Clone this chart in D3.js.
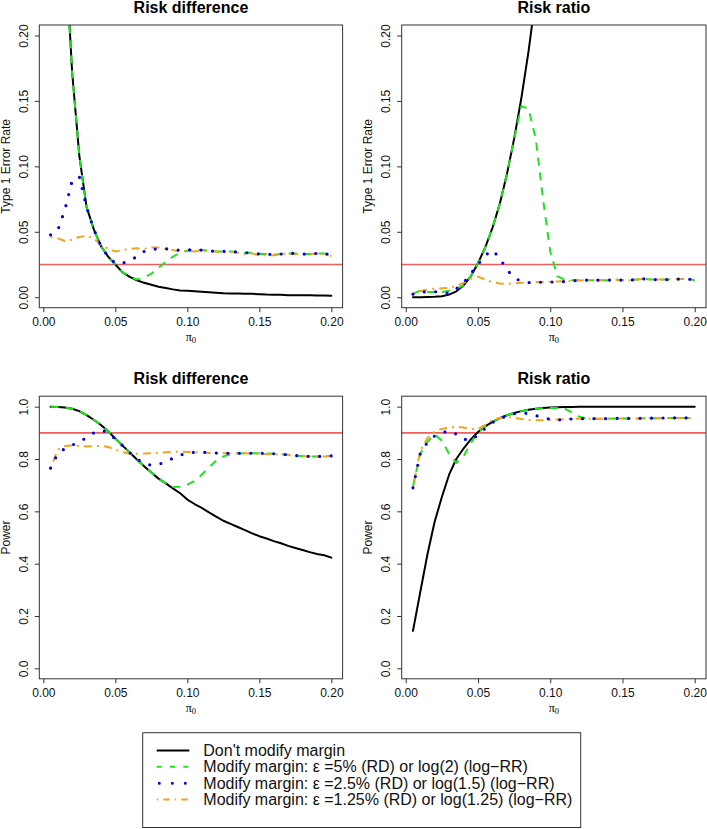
<!DOCTYPE html>
<html>
<head>
<meta charset="utf-8">
<script src="https://cdn.jsdelivr.net/npm/d3@7"></script>
<style>
  html, body { margin: 0; padding: 0; background: #fff; }
  svg { display: block; font-family: "Liberation Sans", Arial, Helvetica, sans-serif; }
</style>
</head>
<body>
<svg id="chart" width="707" height="829"></svg>
<script>
// ---------------- data ----------------
const pi0 = [0.005,0.010,0.015,0.020,0.025,0.030,0.035,0.040,0.045,0.050,
             0.055,0.060,0.065,0.070,0.075,0.080,0.085,0.090,0.095,0.100,
             0.105,0.110,0.115,0.120,0.125,0.130,0.135,0.140,0.145,0.150,
             0.155,0.160,0.165,0.170,0.175,0.180,0.185,0.190,0.195,0.200];

const xTicks = [0, 0.05, 0.10, 0.15, 0.20];
const xTickLabels = ["0.00","0.05","0.10","0.15","0.20"];
const type1Ticks = [0, 0.05, 0.10, 0.15, 0.20];
const type1TickLabels = ["0.00","0.05","0.10","0.15","0.20"];
const powerTicks = [0, 0.2, 0.4, 0.6, 0.8, 1.0];
const powerTickLabels = ["0.0","0.2","0.4","0.6","0.8","1.0"];

const panelTitles = ["Risk difference","Risk ratio","Risk difference","Risk ratio"];
const yLabels = ["Type 1 Error Rate","Type 1 Error Rate","Power","Power"];
const refLevels = [0.025, 0.025, 0.9, 0.9];

const legendLabels = [
  "Don't modify margin",
  "Modify margin: \u03b5 =5% (RD) or log(2) (log\u2212RR)",
  "Modify margin: \u03b5 =2.5% (RD) or log(1.5) (log\u2212RR)",
  "Modify margin: \u03b5 =1.25% (RD) or log(1.25) (log\u2212RR)"
];

// Risk difference, type 1 error
const rdType1NoMod = [0.62,0.45,0.27,0.172,0.108,0.069,0.052,0.039,0.031,0.025,
                      0.019,0.0155,0.013,0.011,0.0095,0.008,0.007,0.006,0.0052,0.005,
                      0.0046,0.0042,0.0038,0.0035,0.0031,0.0029,0.0028,0.0027,0.0026,0.0023,
                      0.002,0.0019,0.0018,0.0016,0.0016,0.0015,0.0015,0.0014,0.0013,0.0012];
const rdType1Eps5  = [0.62,0.45,0.27,0.172,0.108,0.069,0.052,0.039,0.031,0.025,
                      0.019,0.0155,0.0135,0.015,0.018,0.0225,0.027,0.031,0.034,0.0355,
                      0.036,0.036,0.0355,0.035,0.035,0.035,0.0345,0.034,0.034,0.033,
                      0.033,0.0325,0.033,0.0335,0.0335,0.033,0.033,0.0335,0.0335,0.032];
const rdType1Eps25 = [0.0477,0.051,0.067,0.089,0.092,0.069,0.052,0.039,0.031,0.026,
                      0.026,0.028,0.031,0.035,0.0365,0.037,0.037,0.0365,0.0358,0.036,
                      0.0365,0.036,0.0355,0.035,0.035,0.035,0.0345,0.034,0.034,0.033,
                      0.033,0.0325,0.033,0.0335,0.0335,0.033,0.033,0.0335,0.0335,0.032];
const rdType1Eps125= [0.046,0.045,0.043,0.044,0.046,0.047,0.045,0.04,0.037,0.035,
                      0.036,0.037,0.0375,0.037,0.038,0.038,0.037,0.036,0.035,0.0355,
                      0.035,0.0355,0.035,0.035,0.0345,0.0345,0.034,0.033,0.0335,0.032,
                      0.032,0.032,0.033,0.0335,0.033,0.033,0.033,0.0335,0.033,0.0315];

// Risk ratio, type 1 error
const rrType1NoMod = [0.0,0.0,0.0001,0.0003,0.0008,0.002,0.0045,0.009,0.016,0.026,
                      0.038,0.053,0.071,0.094,0.121,0.152,0.188,0.23,0.28,0.34,
                      0.40,0.46,0.52,0.58,0.64,0.69,0.74,0.78,0.82,0.85,
                      0.88,0.9,0.92,0.94,0.95,0.96,0.97,0.98,0.985,0.99];
const rrType1Eps5  = [0.0025,0.005,0.004,0.004,0.004,0.005,0.0065,0.009,0.016,0.026,
                      0.038,0.053,0.071,0.094,0.121,0.146,0.144,0.121,0.075,0.035,
                      0.016,0.0135,0.013,0.013,0.013,0.013,0.013,0.013,0.0135,0.013,
                      0.013,0.0135,0.014,0.0135,0.0135,0.0135,0.0135,0.014,0.014,0.013];
const rrType1Eps25 = [0.0023,0.0035,0.0045,0.0043,0.0035,0.003,0.0065,0.011,0.018,0.025,
                      0.032,0.036,0.03,0.021,0.015,0.012,0.0112,0.0113,0.0115,0.0116,
                      0.0118,0.012,0.0125,0.0128,0.013,0.013,0.013,0.013,0.0135,0.013,
                      0.013,0.0135,0.014,0.0135,0.0135,0.0135,0.0135,0.014,0.014,0.013];
const rrType1Eps125= [0.0025,0.0045,0.0058,0.0065,0.0068,0.0072,0.0085,0.011,0.014,0.0158,
                      0.0135,0.0115,0.0105,0.0103,0.0106,0.011,0.0114,0.0116,0.0117,0.0118,
                      0.012,0.0122,0.0125,0.0128,0.013,0.013,0.013,0.013,0.0135,0.013,
                      0.013,0.0135,0.014,0.0135,0.0135,0.0135,0.0135,0.014,0.014,0.013];

// Risk difference, power
const rdPowerNoMod = [1.0,0.999,0.997,0.992,0.983,0.968,0.95,0.93,0.906,0.878,
                      0.851,0.825,0.798,0.772,0.748,0.725,0.707,0.688,0.669,0.645,
                      0.628,0.613,0.596,0.58,0.564,0.552,0.54,0.528,0.516,0.505,
                      0.496,0.486,0.478,0.468,0.46,0.452,0.444,0.437,0.432,0.423];
const rdPowerEps5  = [1.0,0.999,0.997,0.992,0.983,0.968,0.95,0.93,0.906,0.878,
                      0.851,0.825,0.798,0.772,0.748,0.725,0.707,0.693,0.694,0.702,
                      0.716,0.74,0.768,0.793,0.81,0.818,0.821,0.822,0.822,0.822,
                      0.821,0.82,0.818,0.816,0.813,0.811,0.81,0.81,0.81,0.812];
const rdPowerEps25 = [0.765,0.82,0.84,0.853,0.865,0.882,0.9,0.91,0.902,0.876,
                      0.851,0.824,0.8,0.783,0.776,0.779,0.79,0.803,0.815,0.822,
                      0.826,0.826,0.825,0.823,0.822,0.822,0.822,0.822,0.822,0.822,
                      0.821,0.82,0.818,0.816,0.813,0.811,0.81,0.81,0.81,0.812];
const rdPowerEps125= [0.765,0.835,0.85,0.852,0.85,0.848,0.849,0.85,0.846,0.836,
                      0.826,0.82,0.82,0.821,0.822,0.824,0.826,0.827,0.828,0.827,
                      0.826,0.825,0.823,0.822,0.822,0.822,0.822,0.822,0.821,0.82,
                      0.819,0.818,0.817,0.815,0.813,0.811,0.81,0.81,0.81,0.812];

// Risk ratio, power
const rrPowerNoMod = [0.143,0.29,0.435,0.56,0.655,0.74,0.8,0.84,0.875,0.903,
                      0.925,0.942,0.956,0.967,0.976,0.983,0.988,0.992,0.995,0.997,
                      0.998,0.999,0.999,1,1,1,1,1,1,1,
                      1,1,1,1,1,1,1,1,1,1];
const rrPowerEps5  = [0.694,0.82,0.866,0.895,0.87,0.82,0.785,0.81,0.86,0.903,
                      0.925,0.942,0.956,0.967,0.976,0.983,0.988,0.992,0.994,0.995,
                      0.995,0.993,0.978,0.962,0.955,0.954,0.954,0.954,0.955,0.955,
                      0.955,0.955,0.956,0.956,0.956,0.957,0.957,0.957,0.957,0.957];
const rrPowerEps25 = [0.69,0.82,0.864,0.888,0.9,0.908,0.895,0.876,0.871,0.892,
                      0.917,0.94,0.952,0.966,0.973,0.977,0.973,0.966,0.958,0.952,
                      0.949,0.951,0.953,0.954,0.954,0.954,0.954,0.954,0.955,0.955,
                      0.955,0.955,0.956,0.956,0.956,0.957,0.957,0.957,0.957,0.957];
const rrPowerEps125= [0.69,0.83,0.88,0.905,0.915,0.92,0.923,0.92,0.915,0.915,
                      0.93,0.95,0.957,0.96,0.958,0.953,0.949,0.948,0.948,0.949,
                      0.951,0.952,0.953,0.954,0.954,0.954,0.954,0.954,0.955,0.955,
                      0.955,0.955,0.956,0.956,0.956,0.957,0.957,0.957,0.957,0.957];

// ---------------- styles ----------------
const seriesStyles = [
  { color: "#000000", width: 2,   dash: null,          cap: "round" },
  { color: "#1ee41e", width: 2,   dash: "8 7",         cap: "butt"  },
  { color: "#0000ee", width: 3.2, dash: "0 11.5",      cap: "round" },
  { color: "#f5a31c", width: 2,   dash: "2 5 8 5",     cap: "butt"  }
];
const legendDash = [null, "5 8.3", "0 13", "1.5 5 6.5 5"];

const panels = [
  { left: 39.3,  right: 342.6, top: 25,    bottom: 307.7, yDomain: [-0.008, 0.208], ticks: type1Ticks, tickLabels: type1TickLabels,
    series: [rdType1NoMod, rdType1Eps5, rdType1Eps125, rdType1Eps25] },
  { left: 401.7, right: 706,   top: 25,    bottom: 307.7, yDomain: [-0.008, 0.208], ticks: type1Ticks, tickLabels: type1TickLabels,
    series: [rrType1NoMod, rrType1Eps5, rrType1Eps125, rrType1Eps25] },
  { left: 39.3,  right: 342.6, top: 396.2, bottom: 678.8, yDomain: [-0.04, 1.04], ticks: powerTicks, tickLabels: powerTickLabels,
    series: [rdPowerNoMod, rdPowerEps5, rdPowerEps125, rdPowerEps25] },
  { left: 401.7, right: 706,   top: 396.2, bottom: 678.8, yDomain: [-0.04, 1.04], ticks: powerTicks, tickLabels: powerTickLabels,
    series: [rrPowerNoMod, rrPowerEps5, rrPowerEps125, rrPowerEps25] }
];
// draw order of series within panel: black, green, orange, blue
const seriesStyleIndex = [0, 1, 3, 2];

const svg = d3.select("#chart");
const defs = svg.append("defs");
const axisColor = "#333";

panels.forEach((p, pi) => {
  const x = d3.scaleLinear().domain([-0.0028, 0.2078]).range([p.left, p.right]);
  const y = d3.scaleLinear().domain(p.yDomain).range([p.bottom, p.top]);
  const g = svg.append("g");

  defs.append("clipPath").attr("id", "clip" + pi)
    .append("rect").attr("x", p.left).attr("y", p.top)
    .attr("width", p.right - p.left).attr("height", p.bottom - p.top);

  // reference line
  g.append("line")
    .attr("x1", p.left).attr("x2", p.right)
    .attr("y1", y(refLevels[pi])).attr("y2", y(refLevels[pi]))
    .attr("stroke", "#ef5d5d").attr("stroke-width", 1.6);

  const plot = g.append("g").attr("clip-path", "url(#clip" + pi + ")");
  p.series.forEach((vals, si) => {
    const st = seriesStyles[seriesStyleIndex[si]];
    const line = d3.line().x((d, i) => x(pi0[i])).y(d => y(d));
    plot.append("path")
      .attr("d", line(vals))
      .attr("fill", "none")
      .attr("stroke", st.color)
      .attr("stroke-width", st.width)
      .attr("stroke-linecap", st.cap)
      .attr("stroke-linejoin", "round")
      .attr("stroke-dasharray", st.dash);
  });

  // x axis
  const xAxis = d3.axisBottom(x).tickValues(xTicks).tickSize(4.5).tickPadding(3)
    .tickFormat((d, i) => xTickLabels[i]);
  const xa = g.append("g").attr("transform", `translate(0,${p.bottom})`).call(xAxis);
  xa.select(".domain").remove();
  xa.selectAll("line").attr("stroke", axisColor);
  xa.selectAll("text").attr("font-size", 12).attr("fill", "#111")
    .attr("dy", null).attr("y", 18.5);

  // y axis
  const yAxis = d3.axisLeft(y).tickValues(p.ticks).tickSize(4.5)
    .tickFormat((d, i) => p.tickLabels[i]);
  const ya = g.append("g").attr("transform", `translate(${p.left},0)`).call(yAxis);
  ya.select(".domain").remove();
  ya.selectAll("line").attr("stroke", axisColor);
  ya.selectAll(".tick text")
    .attr("x", null).attr("dy", null)
    .attr("font-size", 12).attr("fill", "#111")
    .attr("text-anchor", "middle")
    .attr("transform", "translate(-11.3,0) rotate(-90)");

  // box
  g.append("rect").attr("x", p.left).attr("y", p.top)
    .attr("width", p.right - p.left).attr("height", p.bottom - p.top)
    .attr("fill", "none").attr("stroke", axisColor).attr("stroke-width", 1);

  const cx = (p.left + p.right) / 2;
  const cy = (p.top + p.bottom) / 2;

  // title
  g.append("text").attr("x", cx).attr("y", p.top - 12)
    .attr("text-anchor", "middle").attr("font-weight", "bold").attr("font-size", 16)
    .text(panelTitles[pi]);

  // x label pi_0
  const xl = g.append("text").attr("x", cx).attr("y", p.bottom + 33)
    .attr("text-anchor", "middle")
    .attr("font-family", "'Liberation Serif', 'DejaVu Serif', serif")
    .attr("font-size", 12);
  xl.append("tspan").text("\u03c0");
  xl.append("tspan").attr("font-size", 8.5).attr("dy", 2.5).text("0");

  // y label
  g.append("text")
    .attr("transform", `translate(${p.left - 29.3},${cy}) rotate(-90)`)
    .attr("text-anchor", "middle").attr("font-size", 12).attr("fill", "#111")
    .text(yLabels[pi]);
});

// ---------------- legend ----------------
const lg = svg.append("g");
lg.append("rect").attr("x", 142.7).attr("y", 732.7)
  .attr("width", 438).attr("height", 94.8)
  .attr("fill", "none").attr("stroke", axisColor).attr("stroke-width", 1);

legendLabels.forEach((lab, i) => {
  const base = 756 + i * 16.35;
  const st = seriesStyles[i];
  lg.append("line")
    .attr("x1", i === 2 ? 159.3 : 156.7).attr("x2", 189.3)
    .attr("y1", base - 5.5).attr("y2", base - 5.5)
    .attr("stroke", st.color)
    .attr("stroke-width", i === 2 ? 3 : 2)
    .attr("stroke-linecap", i === 2 ? "round" : "butt")
    .attr("stroke-dasharray", legendDash[i]);
  lg.append("text").attr("x", 203.3).attr("y", base)
    .attr("font-size", 16).attr("fill", "#111").text(lab);
});
</script>
</body>
</html>
